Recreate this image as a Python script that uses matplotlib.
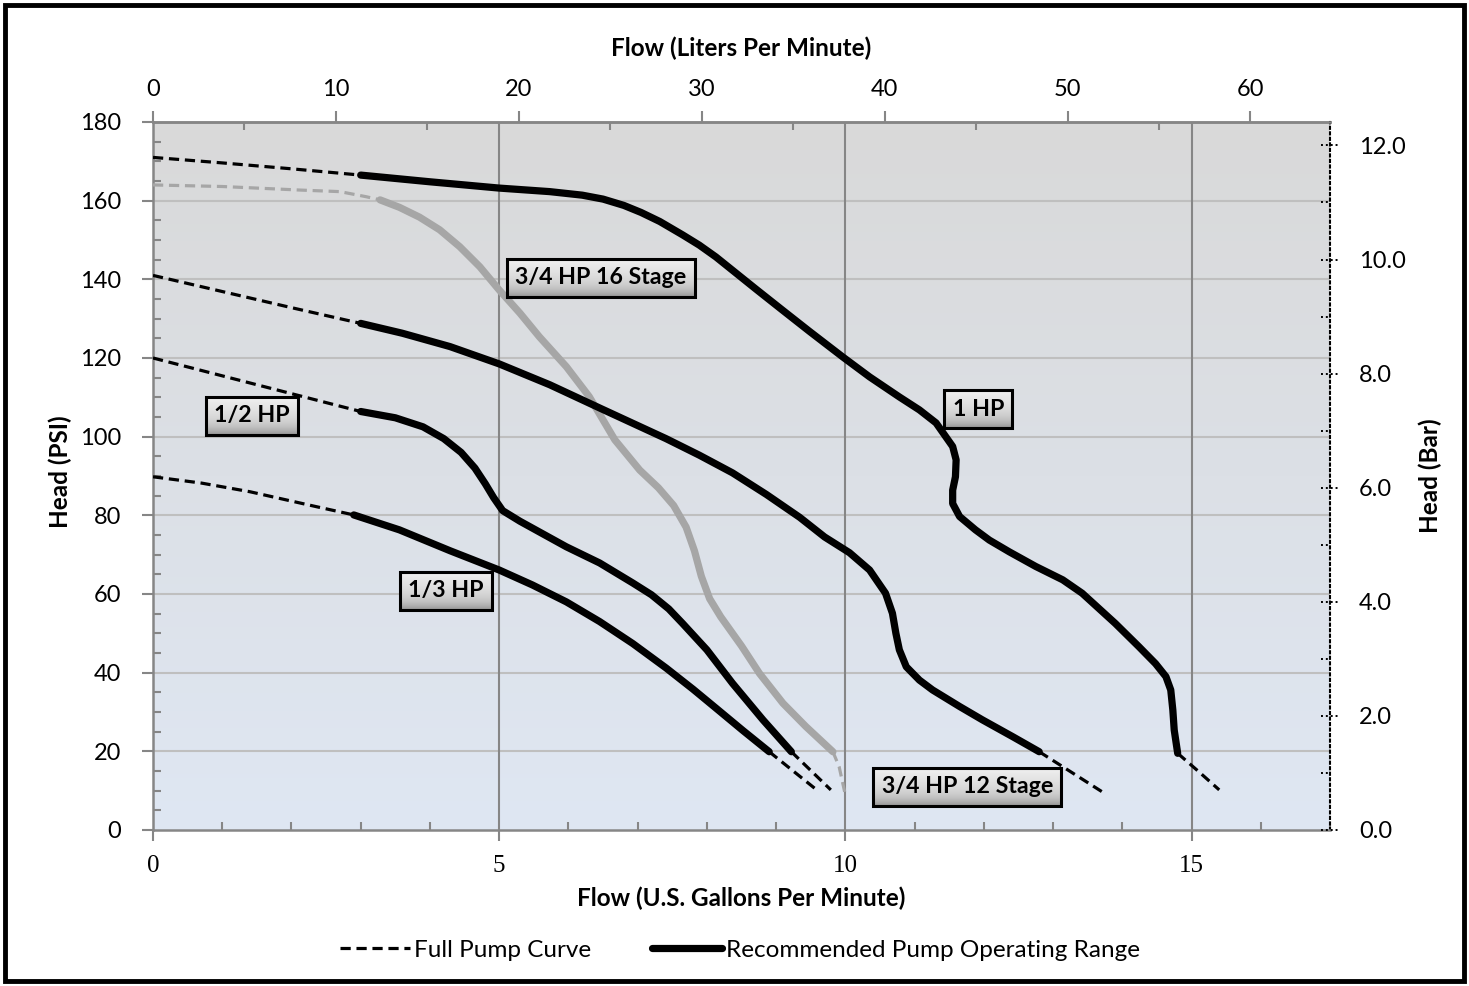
import numpy as np
import matplotlib
matplotlib.use("Agg")
import matplotlib.pyplot as plt
from matplotlib.lines import Line2D
from matplotlib.patches import Rectangle
import matplotlib.transforms as mtransforms

plt.rcParams['font.family'] = ['Lato', 'DejaVu Sans']

# ---------------- data (GPM, PSI) ----------------
hp1_dash_x = [0.0, 1.0, 2.0, 3.0]
hp1_dash_y = [171.0, 169.6, 168.1, 166.5]
hp1_x = [3.0, 4.0, 5.0, 5.73, 6.2, 6.5, 6.8, 7.05, 7.32, 7.65, 7.89, 8.13, 8.42, 8.71, 9.09, 9.48, 9.96,
         10.35, 10.78, 11.07, 11.31, 11.45, 11.55, 11.6, 11.59, 11.55, 11.55, 11.65, 11.88, 12.08,
         12.37, 12.75, 13.14, 13.42, 13.9, 14.24, 14.48, 14.63, 14.7, 14.73, 14.75, 14.8]
hp1_y = [166.5, 164.8, 163.2, 162.3, 161.4, 160.4, 158.8, 157.0, 154.7, 151.3, 148.7, 145.7, 141.6, 137.5, 132.2, 126.8, 120.3,
         115.2, 110.1, 106.8, 103.5, 100.0, 97.5, 94.1, 89.8, 86.4, 83.0, 79.7, 76.3, 73.7,
         70.7, 67.0, 63.6, 60.2, 52.5, 46.6, 42.3, 39.0, 35.6, 30.5, 25.4, 19.5]
hp1_end_x = [14.8, 15.1, 15.4]
hp1_end_y = [19.5, 14.9, 10.2]

hp34_16_dash_x = [0.0, 1.0, 2.12, 2.7, 3.08, 3.28]
hp34_16_dash_y = [164.0, 163.6, 162.7, 162.3, 161.0, 160.2]
hp34_16_x = [3.28, 3.56, 3.85, 4.14, 4.43, 4.72, 5.0, 5.3, 5.58, 5.97, 6.3, 6.67, 7.03, 7.3, 7.52, 7.7, 7.82,
             7.92, 8.04, 8.2, 8.5, 8.76, 9.1, 9.43, 9.82]
hp34_16_y = [160.2, 158.3, 155.8, 152.6, 148.3, 143.2, 137.3, 131.4, 125.4, 117.8, 110.2, 99.2, 91.5, 87.0, 82.5, 77.0, 71.0,
             64.5, 58.8, 54.2, 46.8, 39.8, 32.2, 26.3, 19.9]
hp34_16_end_x = [9.82, 9.91, 9.99]
hp34_16_end_y = [19.9, 16.1, 9.7]

hp34_12_dash_x = [0.0, 1.0, 2.0, 3.0]
hp34_12_dash_y = [141.0, 136.9, 132.8, 128.8]
hp34_12_x = [3.0, 3.6, 4.29, 5.0, 5.73, 6.45, 7.41, 7.89, 8.37, 8.86, 9.34, 9.7, 10.06, 10.35, 10.58, 10.68,
             10.73, 10.78, 10.88, 11.07, 11.26, 11.65, 11.98, 12.42, 12.8]
hp34_12_y = [128.8, 126.3, 122.9, 118.5, 113.2, 107.3, 99.5, 95.3, 90.8, 85.3, 79.5, 74.5, 70.5, 66.1, 60.2, 55.1,
             50.0, 45.8, 41.5, 38.1, 35.6, 31.4, 28.0, 23.7, 19.9]
hp34_12_end_x = [12.8, 13.71]
hp34_12_end_y = [19.9, 9.7]

hp12_dash_x = [0.0, 1.5, 3.0]
hp12_dash_y = [120.0, 113.2, 106.4]
hp12_x = [3.0, 3.5, 3.9, 4.2, 4.45, 4.65, 4.8, 4.92, 5.05, 5.3, 5.97, 6.45, 6.93, 7.2, 7.45, 7.65, 8.0, 8.37, 8.81, 9.22]
hp12_y = [106.4, 104.8, 102.5, 99.5, 96.0, 92.0, 88.0, 84.5, 81.2, 78.5, 72.0, 67.9, 62.8, 59.8, 56.2, 52.5, 45.8, 37.3, 28.0, 19.9]
hp12_end_x = [9.22, 9.79]
hp12_end_y = [19.9, 10.2]

hp13_dash_x = [0.0, 0.7, 1.4, 2.36, 2.9]
hp13_dash_y = [89.8, 88.2, 86.0, 82.2, 80.1]
hp13_x = [2.9, 3.56, 4.29, 5.0, 5.48, 5.97, 6.45, 6.93, 7.41, 7.8, 8.13, 8.52, 8.9]
hp13_y = [80.1, 76.3, 71.0, 66.1, 62.3, 58.0, 53.0, 47.4, 41.2, 35.8, 31.0, 25.3, 19.9]
hp13_end_x = [8.9, 9.6]
hp13_end_y = [19.9, 10.0]

labels = ["3/4 HP 16 Stage", "1 HP", "1/2 HP", "1/3 HP", "3/4 HP 12 Stage"]
label_x = [6.47, 11.92, 1.43, 4.23, 11.76]
label_y = [140.4, 107.0, 105.3, 60.8, 11.0]

x_ticks = [0, 5, 10, 15]
y_ticks = [0, 20, 40, 60, 80, 100, 120, 140, 160, 180]
lpm_ticks = [0, 10, 20, 30, 40, 50, 60]
bar_ticks = [0.0, 2.0, 4.0, 6.0, 8.0, 10.0, 12.0]
GAL_TO_L = 3.78541
PSI_PER_BAR = 14.5038

# ---------------- figure ----------------
W, H = 1469, 986
fig = plt.figure(figsize=(W / 100, H / 100), dpi=100)
ax = fig.add_axes([153 / W, 1 - 830 / H, (1330 - 153) / W, (830 - 122) / H])

# background gradient
top = np.array([217, 217, 217]) / 255
bot = np.array([223, 231, 243]) / 255
t = np.linspace(0, 1, 256)[:, None]
grad = (top[None, :] * (1 - t) + bot[None, :] * t)[:, None, :]
ax.imshow(grad, extent=[0, 17, 0, 180], aspect='auto', zorder=0, interpolation='bilinear')
ax.set_xlim(0, 17)
ax.set_ylim(0, 180)

# grid
for yv in y_ticks[1:]:
    ax.axhline(yv, color='#bfbfbf', lw=1.5, zorder=0.5)
for xv in x_ticks[1:]:
    ax.axvline(xv, color='#868686', lw=1.5, zorder=0.5)

# curves
dash_kw = dict(color='black', lw=2.3, linestyle=(0, (3.2, 1.8)), zorder=3, solid_capstyle='butt')
solid_kw = dict(color='black', lw=5.2, zorder=4, solid_capstyle='round', solid_joinstyle='round')
gdash_kw = dict(dash_kw, color='#a6a6a6')
gsolid_kw = dict(solid_kw, color='#a6a6a6')

ax.plot(hp34_16_dash_x, hp34_16_dash_y, **gdash_kw)
ax.plot(hp34_16_x, hp34_16_y, **gsolid_kw)
ax.plot(hp34_16_end_x, hp34_16_end_y, **gdash_kw)

for dx, dy, sx, sy, ex, ey in [
    (hp1_dash_x, hp1_dash_y, hp1_x, hp1_y, hp1_end_x, hp1_end_y),
    (hp34_12_dash_x, hp34_12_dash_y, hp34_12_x, hp34_12_y, hp34_12_end_x, hp34_12_end_y),
    (hp12_dash_x, hp12_dash_y, hp12_x, hp12_y, hp12_end_x, hp12_end_y),
    (hp13_dash_x, hp13_dash_y, hp13_x, hp13_y, hp13_end_x, hp13_end_y),
]:
    ax.plot(dx, dy, **dash_kw)
    ax.plot(sx, sy, **solid_kw)
    ax.plot(ex, ey, **dash_kw)

# labels (bevel-like gradient boxes)
label_texts = []
for txt, lx, ly in zip(labels, label_x, label_y):
    label_texts.append(ax.text(lx, ly, txt, ha='center', va='center', fontsize=16.7, fontweight='bold', zorder=6,
                               bbox=dict(boxstyle='square,pad=0.36', facecolor='none', edgecolor='black',
                                         linewidth=2.2)))

# spines & ticks
for s in ['left', 'bottom', 'top']:
    ax.spines[s].set_color('#868686')
    ax.spines[s].set_linewidth(1.8)
ax.spines['right'].set_color('black')
ax.spines['right'].set_linestyle(':')
ax.spines['right'].set_linewidth(1.5)

ax.set_xticks(x_ticks)
ax.set_xticks(np.arange(0, 17.01, 1), minor=True)
ax.set_yticks(y_ticks)
ax.set_yticks(np.arange(0, 180.01, 5), minor=True)
ax.tick_params(axis='both', which='major', direction='out', length=8, width=1.5, color='#868686')
ax.tick_params(axis='both', which='minor', direction='in', length=6, width=1.5, color='#868686')
ax.tick_params(axis='y', labelsize=17, pad=15)
ax.tick_params(axis='x', labelsize=18, pad=10)
for lab in ax.get_xticklabels():
    lab.set_family(['Liberation Serif', 'DejaVu Serif'])

# top axis (LPM)
secx = ax.secondary_xaxis('top', functions=(lambda g: g * GAL_TO_L, lambda l: l / GAL_TO_L))
secx.set_xticks(lpm_ticks)
secx.set_xticks(np.arange(5, 65, 10), minor=True)
secx.tick_params(which='major', direction='out', length=8, width=1.5, color='#868686', labelsize=17, pad=8)
secx.tick_params(which='minor', direction='in', length=6, width=1.5, color='#868686')
secx.spines['top'].set_color('#868686')
secx.spines['top'].set_linewidth(1.8)

# right axis (bar)
secy = ax.secondary_yaxis('right', functions=(lambda p: p / PSI_PER_BAR, lambda b: b * PSI_PER_BAR))
secy.set_yticks(bar_ticks)
secy.set_yticklabels([f"{b:.1f}" for b in bar_ticks])
secy.tick_params(which='both', length=0, labelsize=17, pad=21)
secy.spines['right'].set_visible(False)
secy.yaxis.set_minor_locator(matplotlib.ticker.NullLocator())
trans = mtransforms.blended_transform_factory(ax.transAxes, ax.transData)
for b in np.arange(0, 12.01, 1):
    yv = b * PSI_PER_BAR
    if yv > 180:
        continue
    x0, x1 = (0.992, 1.008) if b % 2 == 0 else (0.992, 1.0)
    ax.plot([x0, x1], [yv, yv], transform=trans, color='black', lw=1.4, linestyle=(0, (1, 1.5)),
            clip_on=False, zorder=7)

# axis titles
fig.text(741 / W, 1 - 48 / H, "Flow (Liters Per Minute)", ha='center', va='center', fontsize=17.5, fontweight='bold')
fig.text(741 / W, 1 - 898 / H, "Flow (U.S. Gallons Per Minute)", ha='center', va='center', fontsize=17.5, fontweight='bold')
fig.text(60 / W, 1 - 472 / H, "Head (PSI)", ha='center', va='center', rotation=90, fontsize=17.5, fontweight='bold')
fig.text(1430 / W, 1 - 476 / H, "Head (Bar)", ha='center', va='center', rotation=90, fontsize=17.5, fontweight='bold')

# legend
handles = [Line2D([0], [0], color='black', lw=2.3, linestyle=(0, (3.2, 1.8))),
           Line2D([0], [0], color='black', lw=5.2, solid_capstyle='round')]
fig.legend(handles, ["Full Pump Curve", "Recommended Pump Operating Range"], loc='center',
           bbox_to_anchor=(740 / W, 1 - 950 / H), ncol=2, frameon=False, fontsize=17.5,
           handlelength=2.9, handletextpad=0.16, columnspacing=2.5)

# outer border
fig.patches.append(Rectangle((5 / W, 5 / H), 1 - 10 / W, 1 - 10 / H, transform=fig.transFigure,
                             fill=False, edgecolor='black', linewidth=3.5, zorder=10))

# gradient fill behind label boxes
fig.canvas.draw()
renderer = fig.canvas.get_renderer()
inv = ax.transData.inverted()
tt = np.linspace(0, 1, 64)
shade = 0.94 - 0.16 * tt - 0.20 * tt ** 5
box_grad = np.repeat(shade[:, None], 3, axis=1)[:, None, :]
for lt in label_texts:
    bb = lt.get_bbox_patch().get_window_extent(renderer)
    (bx0, by0), (bx1, by1) = inv.transform([[bb.x0, bb.y0], [bb.x1, bb.y1]])
    ax.imshow(box_grad, extent=[bx0, bx1, by0, by1], aspect='auto', zorder=5.5, interpolation='bilinear')
ax.set_xlim(0, 17)
ax.set_ylim(0, 180)

fig.savefig("out.png", dpi=100)
